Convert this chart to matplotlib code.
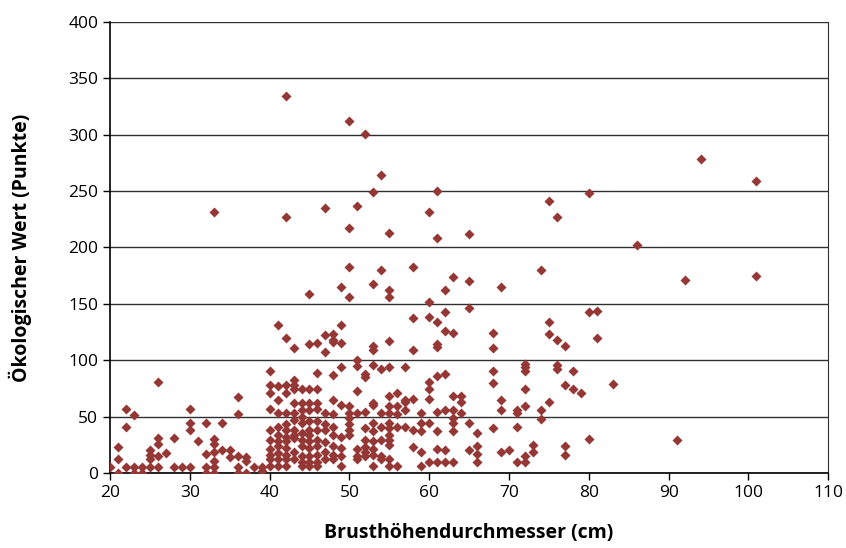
import matplotlib.pyplot as plt
import numpy as np

# Brusthöhendurchmesser (cm) je Spalte -> ökologische Werte (Punkte)
spalten = {
    20: [5],
    21: [23, 12, 0],
    22: [57, 41, 5],
    23: [51, 5, 0],
    24: [5, 0],
    25: [20, 16, 12, 5],
    26: [81, 31, 26, 15, 5],
    27: [18],
    28: [31, 5],
    29: [5],
    30: [57, 44, 38, 5],
    31: [28],
    32: [44, 17, 5, 0],
    33: [231, 30, 26, 19, 11, 5, 0],
    34: [44, 20],
    35: [20, 14],
    36: [67, 52, 15, 5, 0],
    37: [14, 11, 0],
    38: [5],
    39: [5, 2],
    40: [90, 78, 71, 57, 38, 29, 21, 16, 12, 6],
    41: [131, 77, 65, 53, 41, 34, 28, 24, 18, 12, 6],
    42: [334, 227, 120, 78, 71, 53, 43, 38, 32, 28, 22, 16, 12, 6],
    43: [111, 82, 78, 74, 62, 53, 47, 38, 34, 31, 19, 12],
    44: [74, 62, 56, 50, 44, 35, 29, 24, 15, 10, 6],
    45: [159, 114, 74, 62, 56, 46, 38, 34, 28, 22, 15, 10, 6],
    46: [115, 89, 74, 62, 57, 46, 38, 29, 24, 16, 10, 6],
    47: [235, 122, 107, 53, 43, 38, 27, 19, 12],
    48: [123, 118, 116, 87, 65, 52, 41, 34, 24, 16, 12],
    49: [165, 131, 115, 94, 60, 32, 22, 15, 6],
    50: [312, 217, 183, 156, 59, 53, 49, 43, 38, 34],
    51: [237, 100, 95, 73, 53, 21, 15, 12],
    52: [301, 88, 85, 54, 40, 29, 23, 19, 15],
    53: [249, 168, 113, 109, 96, 62, 60, 44, 37, 28, 21, 16, 6],
    54: [264, 180, 92, 53, 41, 29, 15, 12],
    55: [213, 162, 156, 117, 94, 68, 59, 53, 44, 40, 34, 29, 25, 12, 6],
    56: [71, 59, 52, 41, 6],
    57: [94, 65, 63, 56, 41],
    58: [183, 137, 109, 66, 38, 23],
    59: [53, 44, 37, 19, 6],
    60: [231, 152, 138, 81, 74, 66, 44, 10],
    61: [250, 208, 134, 114, 112, 86, 54, 37, 21, 10],
    62: [162, 143, 126, 88, 56, 20, 10],
    63: [174, 124, 68, 56, 49, 44, 37, 10],
    64: [68, 63, 53],
    65: [212, 170, 146, 44, 20],
    66: [35, 24, 17, 10],
    68: [124, 111, 90, 80, 40],
    69: [165, 65, 56, 19],
    70: [20],
    71: [56, 53, 41, 10],
    72: [97, 94, 90, 74, 59, 15, 10],
    73: [25, 19],
    74: [180, 56, 48],
    75: [241, 134, 123, 63],
    76: [227, 118, 96, 92],
    77: [113, 78, 24, 16],
    78: [90, 74],
    79: [71],
    80: [248, 143, 30],
    81: [144, 120],
    83: [79],
    86: [202],
    91: [29],
    92: [171],
    94: [278],
    101: [259, 175],
}

bhd = np.array([d for d, werte in spalten.items() for _ in werte])
wert = np.array([w for werte in spalten.values() for w in werte])

x_ticks = list(range(20, 111, 10))
y_ticks = list(range(0, 401, 50))

plt.rcParams['font.family'] = ['Open Sans', 'DejaVu Sans']

fig = plt.figure(figsize=(8.46, 5.48), dpi=100)
ax = fig.add_axes([0.130, 0.137, 0.849, 0.823])

ax.scatter(bhd, wert, marker='D', s=26, color='#953735', linewidths=0, zorder=3)

ax.set_xlim(20, 110)
ax.set_ylim(0, 400)
ax.set_xticks(x_ticks)
ax.set_yticks(y_ticks)
ax.yaxis.grid(True, color='#303030', linewidth=1.0)
ax.set_axisbelow(True)

for s in ['left', 'bottom']:
    ax.spines[s].set_color('black')
    ax.spines[s].set_linewidth(1.2)
ax.spines['top'].set_visible(False)
ax.spines['right'].set_color('#303030')

ax.tick_params(axis='both', direction='out', length=5, width=1.0, labelsize=12.5, colors='black')

ax.set_xlabel('Brusthöhendurchmesser (cm)', fontsize=14, fontweight='bold', labelpad=16)
ax.set_ylabel('Ökologischer Wert (Punkte)', fontsize=14, fontweight='bold', labelpad=26)

plt.savefig('out.png', dpi=100)
